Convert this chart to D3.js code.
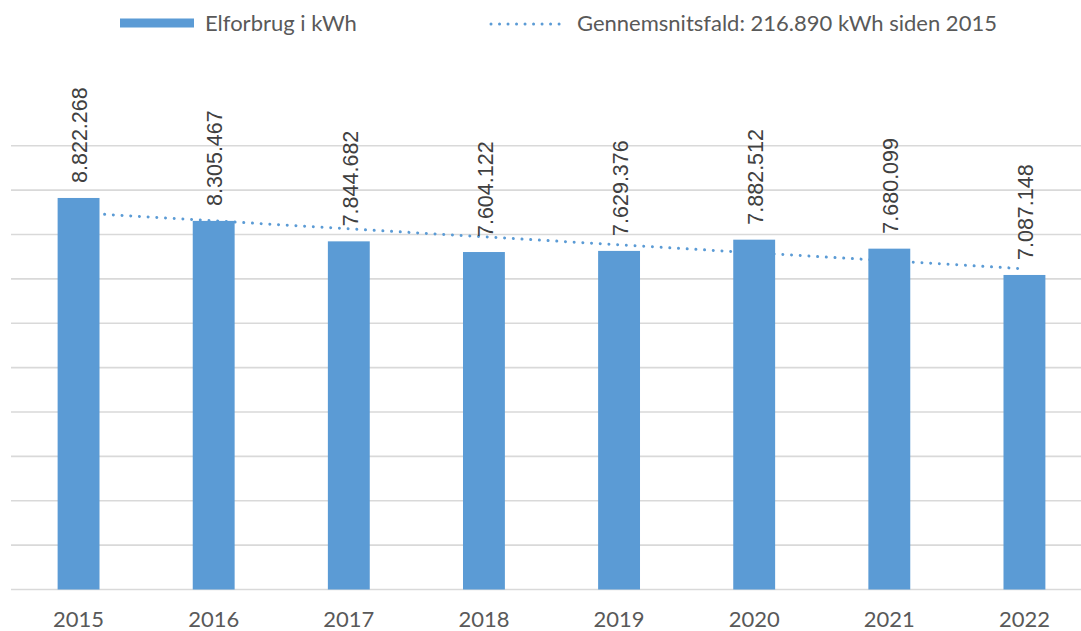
<!DOCTYPE html>
<html>
<head>
<meta charset="utf-8">
<script src="https://cdn.jsdelivr.net/npm/d3@7"></script>
<style>
    body { margin: 0; background: #fff; }
    svg { display: block; }
    .tick-label { font-family: Lato, "Open Sans", sans-serif; fill: #595959; }
    .legend-text { font-family: Lato, "Open Sans", sans-serif; fill: #595959; }
    .value-label { font-family: "Liberation Sans", Arial, sans-serif; fill: #404040; }
</style>
</head>
<body>
<div id="chart"></div>
<script>
// data
const years = ['2015', '2016', '2017', '2018', '2019', '2020', '2021', '2022'];
const consumption = [8822268, 8305467, 7844682, 7604122, 7629376, 7882512, 7680099, 7087148];
const gridValues = [0, 1000000, 2000000, 3000000, 4000000, 5000000, 6000000, 7000000, 8000000, 9000000, 10000000];
const legendLabels = ['Elforbrug i kWh', 'Gennemsnitsfald: 216.890 kWh siden 2015'];

const width = 1081;
const height = 631;
const blue = '#5B9BD5';

// Danish number format (8.822.268)
const daFormat = d3.formatLocale({ decimal: ',', thousands: '.', grouping: [3], currency: ['', ' kr.'] }).format(',d');

const svg = d3.select('#chart')
    .append('svg')
    .attr('width', width)
    .attr('height', height);

// Scales (plot runs past the right edge, like the cropped original)
const x = d3.scaleBand()
    .domain(years)
    .range([11, 1092])
    .paddingInner(0.69)
    .paddingOuter(0.345);

const y = d3.scaleLinear()
    .domain([0, 10000000])
    .range([589.5, 145.7]);

// Gridlines
svg.append('g')
    .selectAll('line')
    .data(gridValues)
    .enter()
    .append('line')
    .attr('x1', 11)
    .attr('x2', 1092)
    .attr('y1', d => y(d))
    .attr('y2', d => y(d))
    .attr('stroke', '#D9D9D9')
    .attr('stroke-width', 1.6);

// Linear trendline (least squares over year index)
const n = consumption.length;
const meanX = (n - 1) / 2;
const meanY = d3.mean(consumption);
const slope = d3.sum(consumption, (v, i) => (i - meanX) * (v - meanY)) / d3.sum(consumption, (v, i) => (i - meanX) ** 2);
const trendData = years.map((yr, i) => ({ year: yr, value: meanY + slope * (i - meanX) }));

const trend = d3.line()
    .x(d => x(d.year) + x.bandwidth() / 2)
    .y(d => y(d.value));

svg.append('path')
    .datum([trendData[0], trendData[n - 1]])
    .attr('d', trend)
    .attr('fill', 'none')
    .attr('stroke', blue)
    .attr('stroke-width', 3)
    .attr('stroke-linecap', 'round')
    .attr('stroke-dasharray', '0.01 8.7');

// Bars
svg.append('g')
    .selectAll('rect')
    .data(consumption)
    .enter()
    .append('rect')
    .attr('x', (d, i) => x(years[i]))
    .attr('y', d => y(d))
    .attr('width', x.bandwidth())
    .attr('height', d => y(0) - y(d))
    .attr('fill', blue);

// Value labels, rotated
svg.append('g')
    .selectAll('text')
    .data(consumption)
    .enter()
    .append('text')
    .attr('class', 'value-label')
    .attr('transform', (d, i) => `translate(${x(years[i]) + x.bandwidth() / 2 + 1}, ${y(d) - 15}) rotate(-90)`)
    .attr('dy', '0.36em')
    .attr('font-size', 21.5)
    .text(d => daFormat(d));

// X axis labels
const xAxis = d3.axisBottom(x).tickSize(0).tickPadding(0);
const gx = svg.append('g')
    .attr('transform', `translate(0, ${y(0)})`)
    .call(xAxis);
gx.select('.domain').remove();
gx.selectAll('text')
    .attr('class', 'tick-label')
    .attr('fill', null)
    .attr('font-size', 22)
    .attr('y', 0)
    .attr('dy', 37.5);

// Legend
const legend = svg.append('g');
legend.append('rect')
    .attr('x', 120)
    .attr('y', 18.5)
    .attr('width', 74)
    .attr('height', 9)
    .attr('fill', blue);
legend.append('text')
    .attr('class', 'legend-text')
    .attr('x', 205)
    .attr('y', 30.5)
    .attr('font-size', 22)
    .text(legendLabels[0]);
legend.append('line')
    .attr('x1', 491)
    .attr('x2', 564)
    .attr('y1', 24)
    .attr('y2', 24)
    .attr('stroke', blue)
    .attr('stroke-width', 3)
    .attr('stroke-linecap', 'round')
    .attr('stroke-dasharray', '0.01 8.5');
legend.append('text')
    .attr('class', 'legend-text')
    .attr('x', 577)
    .attr('y', 30.5)
    .attr('font-size', 22)
    .text(legendLabels[1]);
</script>
</body>
</html>
